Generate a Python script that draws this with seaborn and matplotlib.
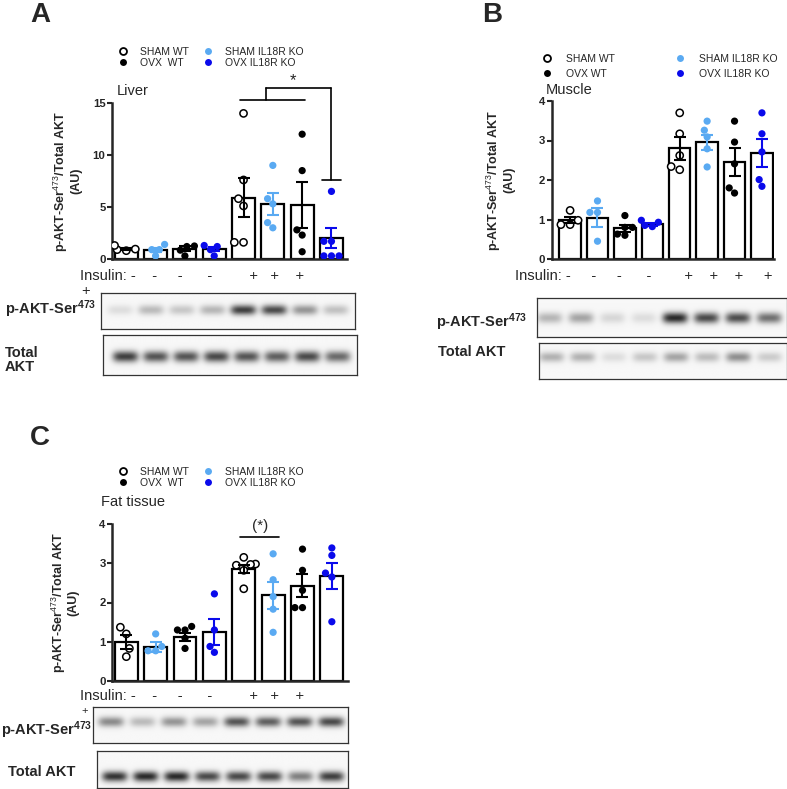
import numpy as np
import pandas as pd
import matplotlib
matplotlib.use("Agg")
import matplotlib.pyplot as plt
from matplotlib.lines import Line2D
import seaborn as sns

# ---------------- data ----------------
groups = ["SHAM WT", "SHAM IL18R KO", "OVX WT", "OVX IL18R KO"]
insulin = ["-", "-", "-", "-", "+", "+", "+", "+"]
bar_groups = groups + groups

liver_mean = [1.0, 0.88, 1.0, 1.0, 5.9, 5.3, 5.2, 2.0]
liver_sem = [0.1, 0.2, 0.22, 0.2, 1.85, 1.05, 2.2, 0.95]
liver_pts = [
    [0.9, 0.8, 0.95, 1.3],
    [1.4, 0.3, 0.9, 0.9],
    [1.25, 1.2, 0.85, 0.3],
    [1.3, 1.2, 0.9, 0.3],
    [14.0, 7.6, 5.8, 5.1, 1.6, 1.6],
    [9.0, 5.8, 5.3, 3.5, 3.0],
    [12.0, 8.5, 2.8, 2.3, 0.7],
    [6.5, 1.7, 1.7, 0.3, 0.3, 0.3],
]

muscle_mean = [0.98, 1.05, 0.78, 0.88, 2.8, 2.95, 2.45, 2.68]
muscle_sem = [0.08, 0.23, 0.09, 0.04, 0.3, 0.2, 0.35, 0.35]
muscle_pts = [
    [1.23, 0.98, 0.87, 0.87],
    [1.47, 1.18, 1.18, 0.45],
    [1.1, 0.8, 0.8, 0.63, 0.6],
    [0.98, 0.93, 0.85, 0.82],
    [3.7, 3.17, 2.62, 2.34, 2.26],
    [3.49, 3.26, 3.09, 2.79, 2.33],
    [3.49, 2.96, 2.41, 1.8, 1.67],
    [3.7, 3.17, 2.71, 2.01, 1.84],
]

fat_mean = [0.99, 0.87, 1.12, 1.25, 2.85, 2.18, 2.43, 2.68]
fat_sem = [0.17, 0.12, 0.11, 0.34, 0.1, 0.35, 0.3, 0.33]
fat_pts = [
    [1.37, 1.2, 0.83, 0.62],
    [1.2, 0.88, 0.77, 0.77],
    [1.39, 1.3, 1.3, 1.09, 0.83],
    [2.22, 1.3, 0.88, 0.73],
    [3.15, 2.98, 2.97, 2.95, 2.82, 2.35],
    [3.24, 2.58, 2.15, 1.83, 1.24],
    [3.36, 2.82, 2.31, 1.87, 1.87],
    [3.39, 3.2, 2.75, 2.65, 1.51],
]

# western blot band intensities (0 = none, 1 = darkest), one per lane
liver_pakt_bands = [0.12, 0.28, 0.22, 0.3, 0.85, 0.8, 0.45, 0.25]
liver_total_bands = [0.85, 0.75, 0.75, 0.8, 0.75, 0.7, 0.8, 0.65]
muscle_pakt_bands = [0.3, 0.38, 0.15, 0.12, 0.95, 0.8, 0.78, 0.62]
muscle_total_bands = [0.32, 0.32, 0.12, 0.22, 0.38, 0.27, 0.48, 0.2]
fat_pakt_bands = [0.5, 0.28, 0.45, 0.38, 0.75, 0.7, 0.75, 0.8]
fat_total_bands = [0.9, 0.95, 0.95, 0.8, 0.8, 0.8, 0.55, 0.85]

# ---------------- style ----------------
sns.set_style("ticks")
plt.rcParams["font.family"] = ["Liberation Sans", "DejaVu Sans"]
plt.rcParams["mathtext.fontset"] = "custom"
plt.rcParams["mathtext.rm"] = "Liberation Sans"
plt.rcParams["mathtext.it"] = "Liberation Sans:italic"
plt.rcParams["mathtext.bf"] = "Liberation Sans:bold"

LBLUE = "#5AAAF2"
BLUE = "#0A0AEB"
point_face = {"SHAM WT": "white", "SHAM IL18R KO": LBLUE, "OVX WT": "black", "OVX IL18R KO": BLUE}
err_color = {"SHAM WT": "black", "SHAM IL18R KO": LBLUE, "OVX WT": "black", "OVX IL18R KO": BLUE}

W, H = 787, 789
fig = plt.figure(figsize=(W / 100, H / 100), dpi=100)


def fx(px):
    return px / W


def fy(py):
    return 1 - py / H


def add_axes_px(l, t, r, b):
    return fig.add_axes([fx(l), fy(b), (r - l) / W, (b - t) / H])


YLAB = "p-AKT-Ser$^{473}$/Total AKT\n(AU)"


def draw_panel(rect, means, sems, pts, ymax, ystep, xlim, title, title_xy, ylab_x):
    ax = add_axes_px(*rect)
    keys = [f"{g} ({s})" for g, s in zip(bar_groups, insulin)]
    bar_df = pd.DataFrame({"key": keys, "mean": means})
    sns.barplot(data=bar_df, x="key", y="mean", order=keys, color="white", saturation=1,
                edgecolor="black", linewidth=1.6, width=0.78, errorbar=None, ax=ax, zorder=1)
    rows = [(k, v) for k, vals in zip(keys, pts) for v in vals]
    pt_df = pd.DataFrame(rows, columns=["key", "val"])
    pal = {k: point_face[g] for k, g in zip(keys, bar_groups)}
    n0 = len(ax.collections)
    sns.swarmplot(data=pt_df, x="key", y="val", order=keys, hue="key", hue_order=keys,
                  palette=pal, size=5.2, legend=False, ax=ax, zorder=3)
    for coll in ax.collections[n0:]:
        fc = coll.get_facecolors()
        if len(fc) and np.allclose(fc[0][:3], 1.0):
            coll.set_edgecolor("black")
            coll.set_linewidth(1.1)
        else:
            coll.set_edgecolor("none")
    for i, (m, s, g) in enumerate(zip(means, sems, bar_groups)):
        ax.errorbar(i, m, yerr=s, fmt="none", ecolor=err_color[g], elinewidth=1.5,
                    capsize=4.5, capthick=1.5, zorder=4)
    ax.set_xlim(*xlim)
    ax.set_ylim(0, ymax)
    ticks = np.arange(0, ymax + 0.01, ystep)
    ax.set_yticks(ticks)
    ax.set_yticklabels([f"{v:g}" for v in ticks], fontweight="bold", fontsize=8.2)
    ax.set_xticks([])
    ax.set_xlabel("")
    sns.despine(ax=ax)
    for sp in ("left", "bottom"):
        ax.spines[sp].set_linewidth(1.8)
    ax.tick_params(axis="y", length=3.5, width=1.5, pad=1.5)
    ax.set_ylabel(YLAB, fontweight="bold", fontsize=9, linespacing=1.0)
    ax.yaxis.set_label_coords(ylab_x, 0.5)
    ax.patch.set_alpha(0)
    ax.text(title_xy[0], title_xy[1], title, transform=ax.transAxes, fontsize=10.5,
            ha="left", va="baseline")
    return ax


def add_legend(left_px, top_px, labels, textpad, colsp, labsp):
    order = ["SHAM WT", "OVX WT", "SHAM IL18R KO", "OVX IL18R KO"]
    handles = []
    for g in order:
        if g == "SHAM WT":
            h = Line2D([], [], ls="", marker="o", ms=5, mfc="white", mec="black", mew=1.3)
        else:
            h = Line2D([], [], ls="", marker="o", ms=5, mfc=point_face[g], mec="none")
        handles.append(h)
    fig.legend(handles, labels, loc="upper left", bbox_to_anchor=(fx(left_px), fy(top_px)),
               ncol=2, frameon=False, fontsize=7.5, handlelength=1.0,
               handletextpad=textpad, columnspacing=colsp, labelspacing=labsp,
               borderpad=0, borderaxespad=0)


def blot(rect, bands, lanes, band_y, band_h=0.1, band_w=0.085):
    ax = add_axes_px(*rect)
    xs = np.linspace(0, 1, 500)
    ys = np.linspace(0, 1, 80)
    img = np.zeros((ys.size, xs.size))
    for a, c in zip(bands, lanes):
        gx = np.exp(-0.5 * ((xs - c) / (band_w / 2)) ** 4)
        gy = np.exp(-0.5 * ((ys - band_y) / band_h) ** 2)
        img += a * np.outer(gy, gx)
    img = 0.97 - 0.85 * np.clip(img, 0, 1)
    ax.imshow(img, cmap="gray", vmin=0, vmax=1, aspect="auto", extent=(0, 1, 1, 0),
              interpolation="bilinear")
    ax.set_xticks([])
    ax.set_yticks([])
    for sp in ax.spines.values():
        sp.set_visible(True)
        sp.set_linewidth(0.9)
        sp.set_color("#333333")
    return ax


BOLD = dict(fontweight="bold", fontsize=10.5)
PAKT = "p-AKT-Ser$^{\\mathbf{473}}$"
INS_A = "Insulin: -" + " " * 4 + "-" + " " * 5 + "-" + " " * 6 + "-" + " " * 9 + "+" + " " * 3 + "+" + " " * 4 + "+"
INS_B = "Insulin: -" + " " * 5 + "-" + " " * 5 + "-" + " " * 6 + "-" + " " * 8 + "+" + " " * 4 + "+" + " " * 4 + "+" + " " * 5 + "+"

# ---------------- Panel A: Liver ----------------
axA = draw_panel((112.5, 103, 347, 259), liver_mean, liver_sem, liver_pts, 15, 5,
                 (-0.47, 7.53), "Liver", (0.02, 1.05), -0.13)
kw = dict(color="black", lw=1.2, clip_on=False)
axA.plot([3.87, 6.1], [15.3, 15.3], **kw)
axA.plot([4.75, 4.75], [15.3, 16.4], **kw)
axA.plot([4.75, 7.0], [16.4, 16.4], **kw)
axA.plot([7.0, 7.0], [16.4, 7.6], **kw)
axA.plot([6.68, 7.33], [7.6, 7.6], **kw)
axA.text(5.7, 16.4, "*", ha="center", va="bottom", fontsize=12)

fig.text(fx(30), fy(22), "A", fontsize=20, fontweight="bold", va="baseline")
add_legend(117.8, 47, ["SHAM WT", "OVX  WT", "SHAM IL18R KO", "OVX IL18R KO"], 1.1, 1.4, 0.1)
fig.text(fx(80), fy(276), INS_A, fontsize=10.5, va="center")
fig.text(fx(81), fy(291), "+", fontsize=10.5, va="center")
blot((101, 293, 355, 329), liver_pakt_bands, np.linspace(0.075, 0.925, 8), 0.47)
blot((103, 335, 357, 375), liver_total_bands, np.linspace(0.088, 0.925, 8), 0.54)
fig.text(fx(5), fy(309), PAKT, va="center", **BOLD)
fig.text(fx(5), fy(360), "Total\nAKT", va="center", linespacing=1.05, **BOLD)

# ---------------- Panel B: Muscle ----------------
axB = draw_panel((552, 101, 774, 259), muscle_mean, muscle_sem, muscle_pts, 4, 1,
                 (-0.66, 7.44), "Muscle", (-0.027, 1.044), -0.167)
fig.text(fx(482), fy(22), "B", fontsize=20, fontweight="bold", va="baseline")
add_legend(541.8, 54, ["SHAM WT", "OVX WT", "SHAM IL18R KO", "OVX IL18R KO"], 1.33, 5.75, 0.45)
fig.text(fx(515), fy(276), INS_B, fontsize=10.5, va="center")
blot((537, 298, 787, 337), muscle_pakt_bands, np.linspace(0.05, 0.93, 8), 0.51)
blot((539, 343, 787, 379), muscle_total_bands, np.linspace(0.05, 0.93, 8), 0.39)
fig.text(fx(436), fy(322), PAKT, va="center", **BOLD)
fig.text(fx(438), fy(352), "Total AKT", va="center", **BOLD)

# ---------------- Panel C: Fat tissue ----------------
axC = draw_panel((112.5, 524, 348, 681), fat_mean, fat_sem, fat_pts, 4, 1,
                 (-0.47, 7.55), "Fat tissue", (-0.047, 1.115), -0.14)
axC.plot([3.86, 5.19], [3.67, 3.67], color="black", lw=1.2, clip_on=False)
axC.text(4.55, 3.95, "(*)", ha="center", va="center", fontsize=11)
fig.text(fx(30), fy(445), "C", fontsize=20, fontweight="bold", va="baseline")
add_legend(117.8, 467, ["SHAM WT", "OVX  WT", "SHAM IL18R KO", "OVX IL18R KO"], 1.1, 1.4, 0.1)
fig.text(fx(80), fy(696), INS_A, fontsize=10.5, va="center")
fig.text(fx(81), fy(711), "+", fontsize=8, va="center")
blot((93, 707, 348, 743), fat_pakt_bands, np.linspace(0.07, 0.935, 8), 0.41)
blot((97, 751, 348, 788), fat_total_bands, np.linspace(0.07, 0.935, 8), 0.69)
fig.text(fx(92), fy(730), PAKT, va="center", ha="right", **BOLD)
fig.text(fx(8), fy(772), "Total AKT", va="center", **BOLD)

fig.savefig("out.png", dpi=100)
